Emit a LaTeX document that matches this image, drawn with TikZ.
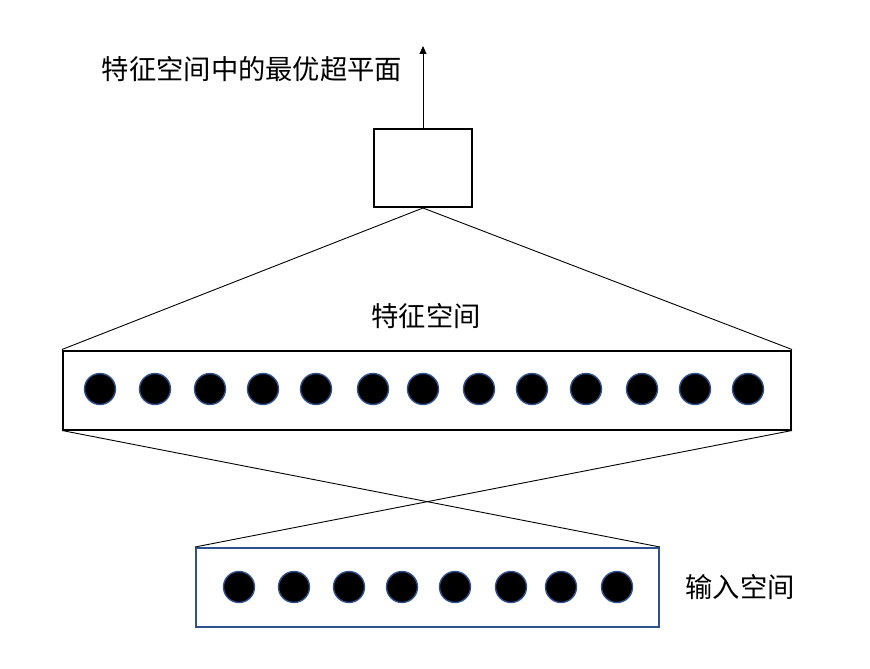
\documentclass[tikz,border=0pt]{standalone}
\usepackage{fontspec}
\newfontfamily\cjk{Noto Sans CJK SC}
\usetikzlibrary{arrows.meta}
\definecolor{dotblue}{HTML}{2F528F}
\tikzset{
  dot/.style={circle,fill=black,draw=dotblue,line width=1.4pt,minimum size=31pt,inner sep=0pt},
  blackbox/.style={draw=black,line width=2pt,inner sep=0pt},
  bluebox/.style={draw=dotblue,line width=2pt,inner sep=0pt},
  lbl/.style={font=\cjk\fontsize{27.3}{30}\selectfont,inner sep=0pt},
  thin/.style={line width=0.9pt}
}
\begin{document}
\begin{tikzpicture}[x=1pt,y=-1pt]
\useasboundingbox (0,0) rectangle (870,669);
\node[blackbox,minimum width=98pt,minimum height=78pt] (top) at (423,168) {};
\node[blackbox,minimum width=728pt,minimum height=79pt] (mid) at (427,390) {};
\node[bluebox,minimum width=463pt,minimum height=79pt] (bot) at (427.5,587.5) {};
\coordinate (tip) at (423,46);
\draw[thin,-{Triangle[length=8pt,width=7pt]}] (top.north) -- (tip);
\draw[thin] (top.south) -- (mid.north west);
\draw[thin] (top.south) -- (mid.north east);
\draw[thin] (mid.south west) -- (bot.north east);
\draw[thin] (mid.south east) -- (bot.north west);
\foreach \x [count=\i] in {100,155,210,263,316,373,423,479,532,586,642,695,748}
  \node[dot] (m\i) at (\x,389) {};
\foreach \x [count=\i] in {239,294,349,402,455,511,561,617}
  \node[dot] (b\i) at (\x,587) {};
\node[lbl] (t1) at (252,69) {特征空间中的最优超平面};
\node[lbl] (t2) at (426,316) {特征空间};
\node[lbl] (t3) at (740,587) {输入空间};
\end{tikzpicture}
\end{document}
